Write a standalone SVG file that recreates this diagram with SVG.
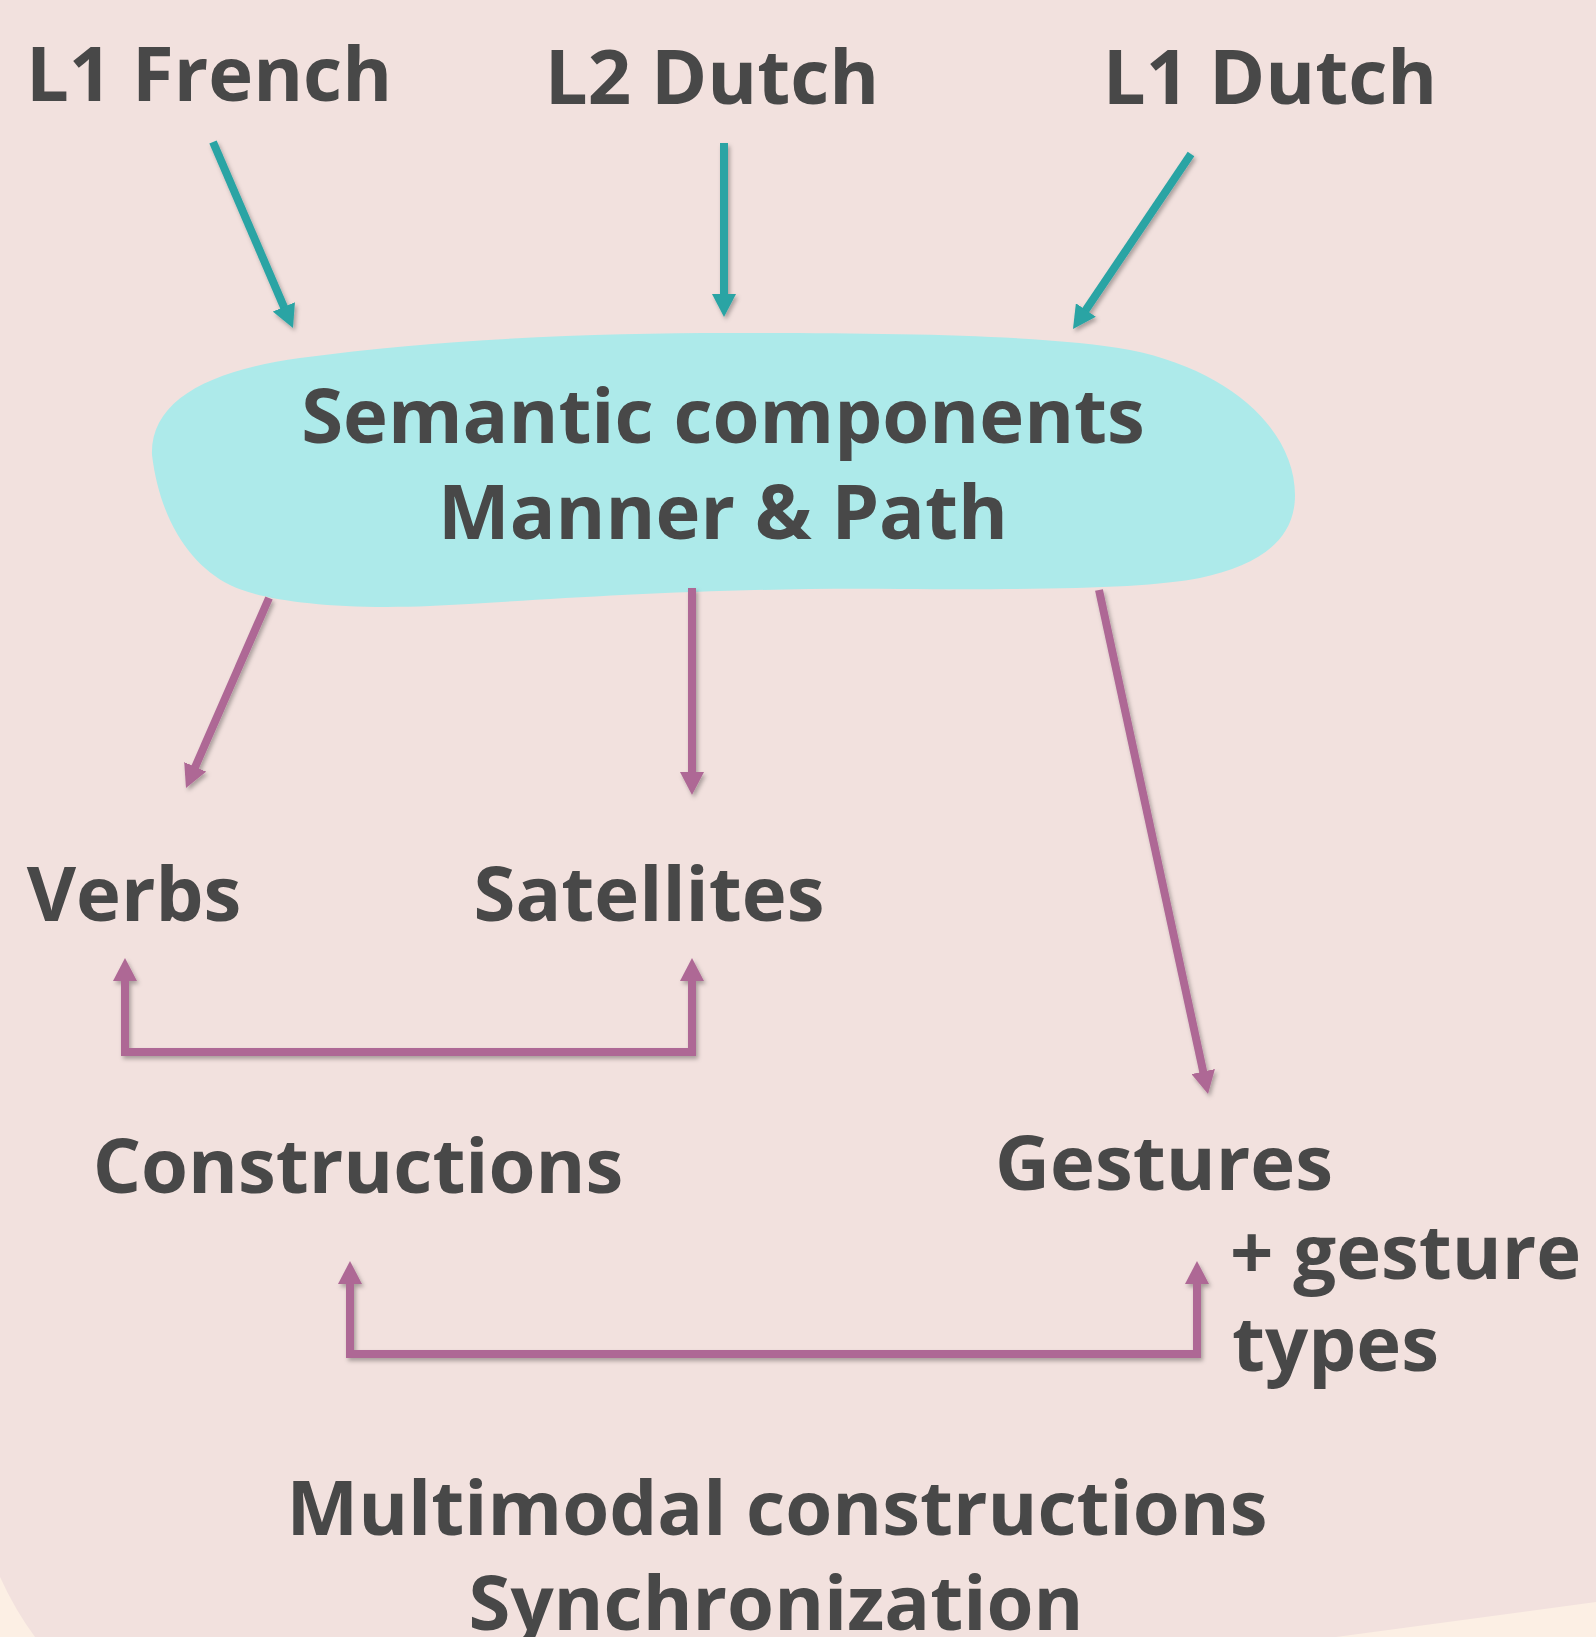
<svg xmlns="http://www.w3.org/2000/svg" width="1596" height="1637" viewBox="0 0 1596 1637">
<style>
.t{font-family:"Open Sans","Noto Sans","Liberation Sans",sans-serif;font-weight:700;font-size:76px;fill:#484848}
.m{text-anchor:middle}
.teal{stroke:#29a4a4;stroke-width:8;fill:none}
.pur{stroke:#ae6895;stroke-width:8;fill:none}
</style>
<defs>
<filter id="sh" x="-20%" y="-20%" width="140%" height="140%">
<feDropShadow dx="2" dy="3" stdDeviation="2" flood-color="#000" flood-opacity="0.3"/>
</filter>
<marker id="at" viewBox="0 -12 23 24" refX="1" refY="0" markerWidth="23" markerHeight="24" markerUnits="userSpaceOnUse" orient="auto-start-reverse">
<path d="M0,-12 L23,0 L0,12 Z" fill="#29a4a4"/>
</marker>
<marker id="ap" viewBox="0 -12 23 24" refX="1" refY="0" markerWidth="23" markerHeight="24" markerUnits="userSpaceOnUse" orient="auto-start-reverse">
<path d="M0,-12 L23,0 L0,12 Z" fill="#ae6895"/>
</marker>
</defs>
<rect width="1596" height="1637" fill="#fcefe4"/>
<path d="M0,0 H1596 V1602 L1336,1637 H35 Q15,1610 0,1577 Z" fill="#f2e1de"/>

<g id="blob">
<path d="M152,455 C150,400 210,370 300,358 C450,338 600,333 730,333 C900,333 1050,335 1130,350 C1230,370 1295,430 1295,495 C1295,540 1260,565 1200,578 C1150,588 1050,590 900,589 C700,587 550,600 430,606 C330,610 260,600 230,585 C190,565 160,520 152,455 Z" fill="#adeaea"/>
<text class="t m" x="723" y="443">Semantic components</text>
<text class="t m" x="723" y="539">Manner &amp; Path</text>
</g>

<g id="connectors" filter="url(#sh)">
<line class="teal" x1="213" y1="142" x2="284.3" y2="307.8" marker-end="url(#at)"/>
<line class="teal" x1="724" y1="143" x2="724" y2="295" marker-end="url(#at)"/>
<line class="teal" x1="1191" y1="154" x2="1085.3" y2="310.8" marker-end="url(#at)"/>
<line class="pur" x1="269" y1="598" x2="194.8" y2="767.8" marker-end="url(#ap)"/>
<line class="pur" x1="692" y1="588" x2="692" y2="773" marker-end="url(#ap)"/>
<line class="pur" x1="1099" y1="590" x2="1203.4" y2="1072.5" marker-end="url(#ap)"/>
<path class="pur" d="M125,980 V1052 H692 V980" marker-start="url(#ap)" marker-end="url(#ap)"/>
<path class="pur" d="M350,1283 V1354 H1197 V1283" marker-start="url(#ap)" marker-end="url(#ap)"/>
</g>

<g id="l1french"><text class="t m" x="209" y="101">L1 French</text></g>
<g id="l2dutch"><text class="t m" x="712" y="104">L2 Dutch</text></g>
<g id="l1dutch"><text class="t m" x="1270" y="104">L1 Dutch</text></g>
<g id="verbs"><text class="t m" x="134" y="921">Verbs</text></g>
<g id="satellites"><text class="t m" x="649" y="921">Satellites</text></g>
<g id="constructions"><text class="t m" x="358" y="1193">Constructions</text></g>
<g id="gestures">
<text class="t m" x="1164" y="1190">Gestures</text>
<text class="t" x="1230" y="1279">+ gesture</text>
<text class="t" x="1232" y="1371">types</text>
</g>
<g id="multimodal">
<text class="t m" x="777" y="1535">Multimodal constructions</text>
<text class="t m" x="776" y="1630">Synchronization</text>
</g>
</svg>
